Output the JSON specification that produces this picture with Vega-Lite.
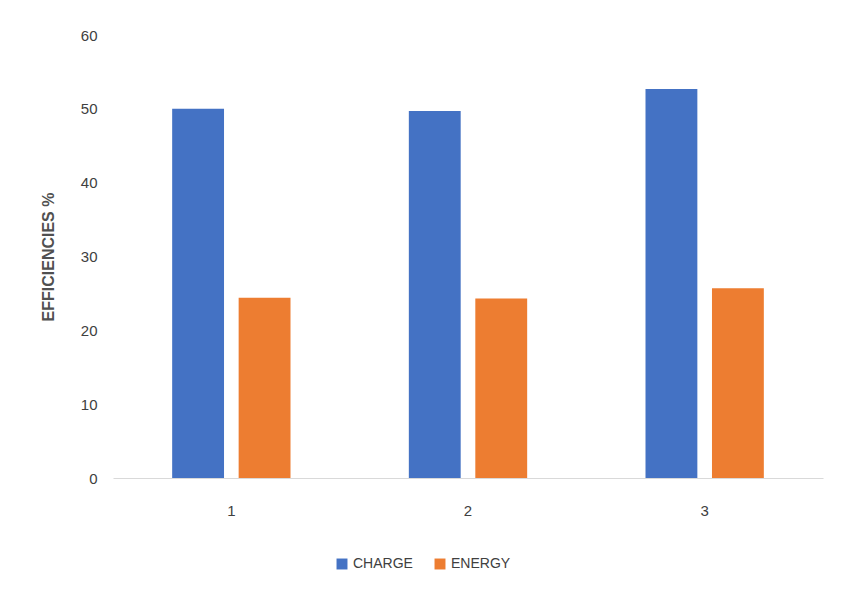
{
"$schema":"https://vega.github.io/schema/vega-lite/v6.json",
"width":710,"height":443,
"padding":{"left":40,"top":28,"right":18,"bottom":10},
"background":"white",
"data":{"values":[
{"trial":"1","type":"CHARGE","value":50.0},
{"trial":"1","type":"ENERGY","value":24.4},
{"trial":"2","type":"CHARGE","value":49.7},
{"trial":"2","type":"ENERGY","value":24.3},
{"trial":"3","type":"CHARGE","value":52.7},
{"trial":"3","type":"ENERGY","value":25.7}
]},
"mark":{"type":"bar"},
"encoding":{
"x":{"field":"trial","type":"nominal","scale":{"paddingInner":0.5,"paddingOuter":0.25},
 "axis":{"title":null,"labelAngle":0,"ticks":false,"domainColor":"#d9d9d9","labelFont":"Liberation Sans","labelFontSize":15,"labelColor":"#404040","labelPadding":25}},
"xOffset":{"field":"type","type":"nominal","scale":{"paddingInner":0.22}},
"y":{"field":"value","type":"quantitative","scale":{"domain":[0,60]},
 "axis":{"title":"EFFICIENCIES %","titleFont":"Liberation Sans","titleFontSize":16,"titleFontWeight":"bold","titleColor":"#505050","titlePadding":24,"tickCount":6,"grid":false,"domain":false,"ticks":false,"labelFont":"Liberation Sans","labelFontSize":15,"labelColor":"#404040","labelPadding":16}},
"color":{"field":"type","type":"nominal","scale":{"range":["#4472c4","#ed7d31"]},
 "legend":{"title":null,"orient":"none","legendX":222,"legendY":522,"direction":"horizontal","symbolType":"square","symbolSize":120,"labelFont":"Liberation Sans","labelFontSize":14,"labelColor":"#404040","columnPadding":20}}
},
"config":{"view":{"stroke":null}}
}
